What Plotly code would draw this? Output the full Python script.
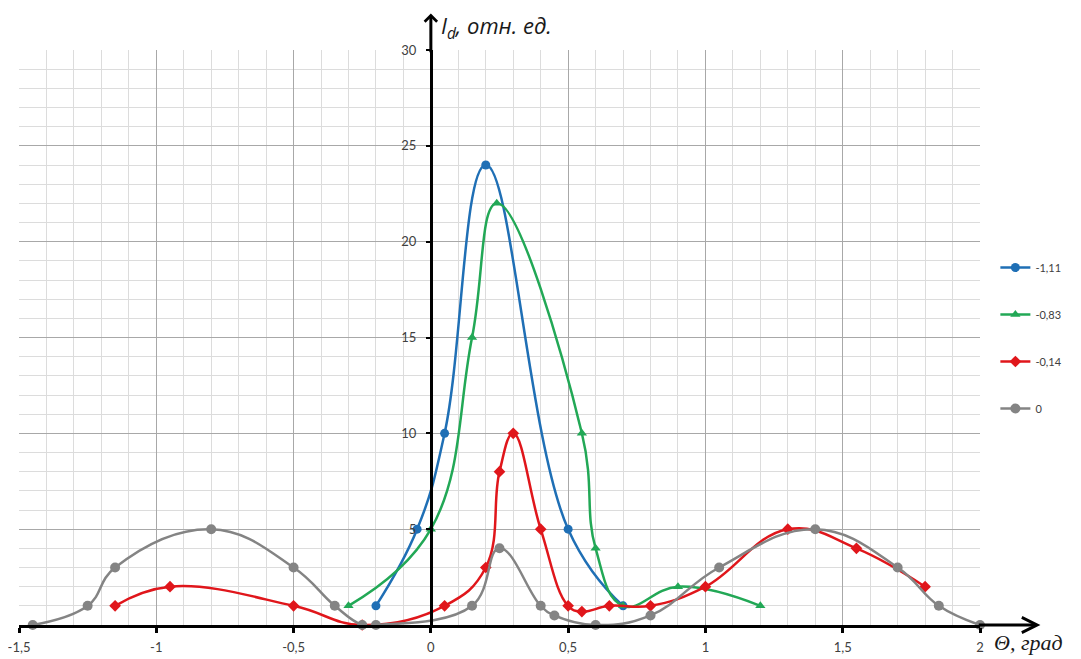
import plotly.graph_objects as go

# ---- data ----
blue_name = "-1,11"
blue_x = [-0.2, -0.05, 0.05, 0.2, 0.5, 0.7]
blue_y = [1, 5, 10, 24, 5, 1]

green_name = "-0,83"
green_x = [-0.3, 0.0, 0.15, 0.24, 0.55, 0.6, 0.7, 0.9, 1.2]
green_y = [1, 5, 15, 22, 10, 4, 1, 2, 1]

red_name = "-0,14"
red_x = [-1.15, -0.95, -0.5, -0.25, 0.05, 0.2, 0.25, 0.3, 0.4, 0.5, 0.55, 0.65, 0.8, 1.0, 1.3, 1.55, 1.8]
red_y = [1, 2, 1, 0, 1, 3, 8, 10, 5, 1, 0.7, 1, 1, 2, 5, 4, 2]

grey_name = "0"
grey_x = [-1.45, -1.25, -1.15, -0.8, -0.5, -0.35, -0.25, -0.2, 0.15, 0.25, 0.4, 0.45, 0.6, 0.8, 1.05, 1.4, 1.7, 1.85, 2.0]
grey_y = [0, 1, 3, 5, 3, 1, 0, 0, 1, 4, 1, 0.5, 0, 0.5, 3, 5, 3, 1, 0]

x_tickvals = [-1.5, -1, -0.5, 0, 0.5, 1, 1.5, 2]
x_ticktext = ["-1,5", "-1", "-0,5", "0", "0,5", "1", "1,5", "2"]
y_tickvals = [5, 10, 15, 20, 25, 30]
y_ticktext = ["5", "10", "15", "20", "25", "30"]

x_title = "<i>Θ, град</i>"
y_title = "<i>I<sub>d</sub>, отн. ед.</i>"

X_MIN, X_MAX = -1.5, 2.0
Y_MIN, Y_MAX = 0, 30

series = [
    (blue_name, blue_x, blue_y, "#1F6FB5", "circle", 9),
    (green_name, green_x, green_y, "#22A856", "triangle-up", 9),
    (red_name, red_x, red_y, "#E0161B", "diamond", 9),
    (grey_name, grey_x, grey_y, "#848484", "circle", 10),
]

fig = go.Figure()
for i, (name, xs, ys, col, sym, sz) in enumerate(series):
    fig.add_trace(go.Scatter(
        x=xs, y=ys, name=name, mode="lines+markers",
        legendgroup=f"g{i}",
        line=dict(color=col, width=2.5, shape="spline", smoothing=1.2),
        marker=dict(color=col, symbol=sym, size=sz),
        cliponaxis=False,
    ))

yaxis_pos = (0 - X_MIN) / (X_MAX - X_MIN)

# the page body adds an 8px offset, so the figure is 8px smaller than the window
fig.update_layout(
    width=1073, height=651,
    margin=dict(l=11, r=101, t=42, b=34, autoexpand=False),
    paper_bgcolor="white", plot_bgcolor="white",
    font=dict(family="Lato, Liberation Sans, sans-serif", size=13, color="#404040"),
    showlegend=True,
    legend=dict(x=1.016, y=0.647, xanchor="left", yanchor="top",
                traceorder="grouped", tracegroupgap=28,
                font=dict(size=11, color="#404040"),
                bgcolor="rgba(0,0,0,0)"),
    xaxis=dict(range=[X_MIN, X_MAX], tickmode="array", tickvals=x_tickvals, ticktext=x_ticktext,
               showgrid=True, gridcolor="#a8a8a8", gridwidth=1,
               minor=dict(dtick=0.1, tick0=-1.5, showgrid=True, gridcolor="#dcdcdc", gridwidth=1),
               showline=True, linecolor="black", linewidth=3,
               ticks="outside", ticklen=5, tickwidth=2.5, tickcolor="black",
               zeroline=False, fixedrange=True, ticklabelstandoff=3, automargin=False,
               ticklabeloverflow="allow"),
    yaxis=dict(range=[Y_MIN, Y_MAX], tickmode="array", tickvals=y_tickvals, ticktext=y_ticktext,
               anchor="free", position=yaxis_pos,
               showgrid=True, gridcolor="#a8a8a8", gridwidth=1,
               minor=dict(dtick=1, tick0=0, showgrid=True, gridcolor="#dcdcdc", gridwidth=1),
               showline=True, linecolor="black", linewidth=3,
               ticks="outside", ticklen=4, tickwidth=2, tickcolor="black",
               zeroline=False, fixedrange=True, automargin=False, ticklabelstandoff=7),
)

# axis arrows
fig.add_annotation(x=0, y=31.9, ax=0, ay=29.8, xref="x", yref="y", axref="x", ayref="y",
                   showarrow=True, arrowhead=4, arrowwidth=3, arrowsize=0.8,
                   arrowcolor="black", text="", standoff=0)
fig.add_annotation(x=2.22, y=0, ax=1.99, ay=0, xref="x", yref="y", axref="x", ayref="y",
                   showarrow=True, arrowhead=5, arrowwidth=3, arrowsize=1.0,
                   arrowcolor="black", text="", standoff=0)

# axis titles
fig.add_annotation(x=0, y=1.04, xref="x", yref="paper", xanchor="left", yanchor="middle",
                   xshift=8, text=y_title, showarrow=False,
                   font=dict(family="Open Sans, sans-serif", size=22, color="#1a1a1a"))
fig.add_annotation(x=(984 - 11) / 961, y=-0.031, xref="paper", yref="paper", xanchor="left", yanchor="middle",
                   text=x_title, showarrow=False,
                   font=dict(family="Liberation Serif, serif", size=22, color="#1a1a1a"))

fig.write_html("out.html")
